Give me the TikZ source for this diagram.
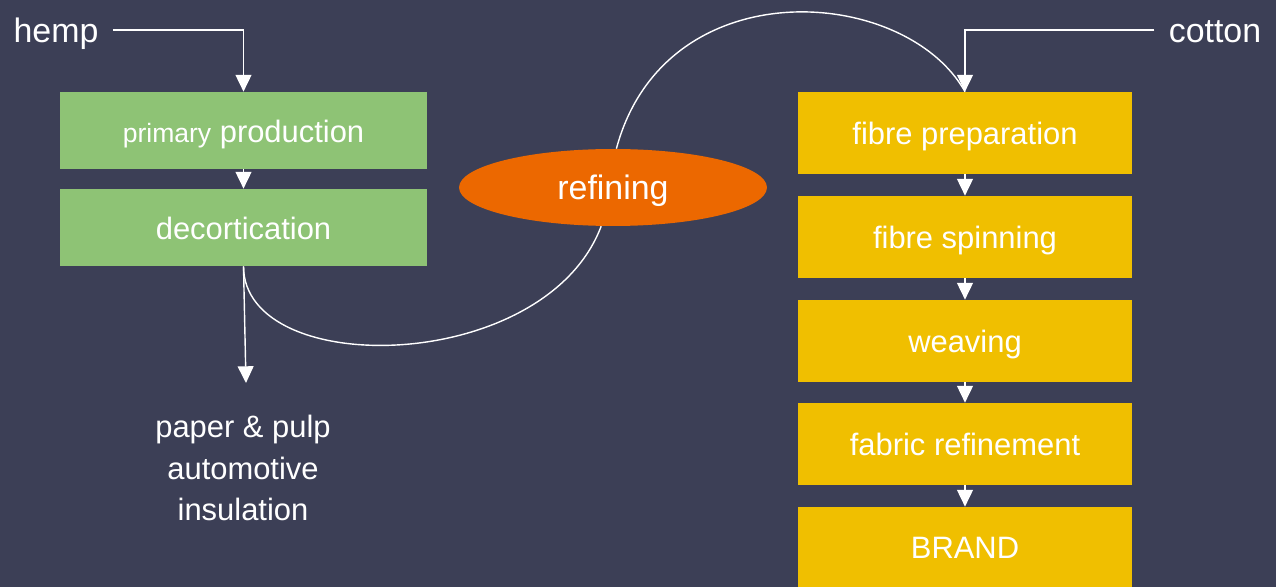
\documentclass[tikz,border=0pt]{standalone}
\usepackage{fontspec}
\setmainfont{Liberation Sans}
\usetikzlibrary{arrows.meta,shapes.geometric}
\definecolor{denim}{RGB}{60,63,86}
\definecolor{hempgreen}{RGB}{142,195,117}
\definecolor{cottonyellow}{RGB}{240,191,0}
\definecolor{refineorange}{RGB}{236,104,0}
\begin{document}
\begin{tikzpicture}[x=0.02cm,y=-0.02cm,
    every node/.style={text=white,font=\fontsize{17.6}{21}\selectfont},
    label text/.style={text height=15.2pt,text depth=1.7pt},
    hempbox/.style={label text,fill=hempgreen,minimum width=7.34cm,minimum height=1.54cm,inner sep=0pt},
    cottonbox/.style={label text,fill=cottonyellow,minimum width=6.68cm,minimum height=1.64cm,inner sep=0pt},
    source/.style={text height=16pt,text depth=1.3pt,font=\fontsize{19.3}{23}\selectfont,inner xsep=8pt},
    link/.style={draw=white,line width=0.8pt},
    flow/.style={link,-{Triangle[width=9pt,length=9.5pt]}}]
      \fill[denim] (0,0) rectangle (1276,587);
      \useasboundingbox (0,0) rectangle (1276,587);
      \draw
        (56,30) node[source] (hemp){hemp}
        (1215,30) node[source] (cotton){cotton}
        (243.5,130.5) node[hempbox] (pprod){{\fontsize{15.1}{18}\selectfont primary} production}
        (243.5,227.5) node[hempbox] (dec){decortication}
        (613,187.5) node[ellipse,text height=15.5pt,text depth=1.7pt,fill=refineorange,minimum width=6.16cm,
          minimum height=1.54cm,inner sep=0pt,font=\fontsize{19.3}{23}\selectfont] (ref){refining}
        (965,133) node[cottonbox] (fprep){fibre preparation}
        (965,237) node[cottonbox] (fspin){fibre spinning}
        (965,341) node[cottonbox] (weave){weaving}
        (965,444) node[cottonbox] (fabric){fabric refinement}
        (965,547) node[cottonbox,minimum height=1.6cm] (brand){BRAND}
        (243,468) node[align=center,font=\fontsize{17.6}{23.5}\selectfont] (uses){paper \& pulp\\automotive\\insulation};
      \coordinate (usesin) at (246,383);
      \begin{scope}[link]
        \draw (dec.south) .. controls (244,380) and (545,375) .. (ref.-107);
        \draw (ref.85) .. controls (665,-32) and (905,-15) .. (fprep.north);
      \end{scope}
      \begin{scope}[flow]
        \draw (hemp.east) -| (pprod.north);
        \draw (cotton.west) -| (fprep.north);
        \draw (pprod) to (dec);
        \draw (dec.south) to (usesin);
        \draw (fprep) to (fspin);
        \draw (fspin) to (weave);
        \draw (weave) to (fabric);
        \draw (fabric) to (brand);
      \end{scope}
    \end{tikzpicture}
\end{document}
